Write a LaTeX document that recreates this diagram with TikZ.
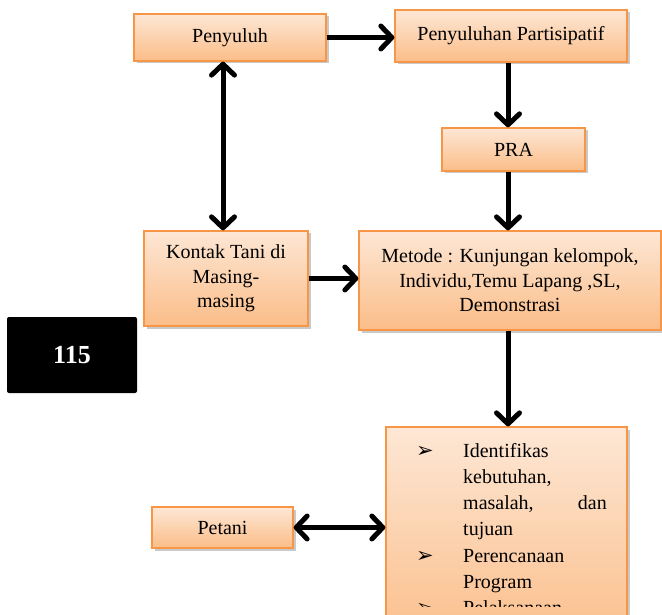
\documentclass[tikz,border=0pt]{standalone}
\usepackage{fontspec}
\setmainfont{Liberation Serif}
\newfontfamily\dejavu{DejaVu Sans}
\usetikzlibrary{arrows.meta,shadows}
\definecolor{boxline}{HTML}{F79646}
\definecolor{boxtop}{HTML}{FDE7D5}
\definecolor{boxbot}{HTML}{FBBD88}
\tikzset{
  box/.style={draw=boxline, line width=1.3pt, top color=boxtop, bottom color=boxbot,
    drop shadow={shadow xshift=2.5pt, shadow yshift=-2.5pt, opacity=0.3, fill=black!70},
    align=center, font=\fontsize{20}{24.5}\selectfont, inner sep=0pt},
  tip/.tip={Straight Barb[length=11pt,width=23pt,line width=5pt,round]},
  conn/.style={line width=5pt, -tip},
  dconn/.style={line width=5pt, tip-tip},
  txt/.style={font=\fontsize{20}{24}\selectfont, inner sep=0pt},
  bul/.style={font=\dejavu\fontsize{21}{21}\selectfont, inner sep=0pt, anchor=base}
}
\begin{document}
\begin{tikzpicture}[x=1pt,y=-1pt]
\useasboundingbox (0,0) rectangle (662,615);
\clip (0,0) rectangle (662,615);
\node[box, minimum width=192pt, minimum height=47pt] (peny) at (230,37.5) {Penyuluh};
\node[box, minimum width=232pt, minimum height=52pt] (pp) at (511,36) {Penyuluhan Partisipatif};
\node[box, minimum width=143pt, minimum height=43pt] (pra) at (513.5,149.5) {PRA};
\node[box, minimum width=164pt, minimum height=95pt] (kontak) at (226,278.5) {Kontak Tani di\\Masing-\\masing};
\node[box, minimum width=302pt, minimum height=99pt] (metode) at (510,280.5) {Metode : Kunjungan kelompok,\\Individu,Temu Lapang ,SL,\\Demonstrasi};
\node[box, minimum width=141pt, minimum height=41pt] (petani) at (222.5,527.5) {Petani};
\node[box, minimum width=241pt, minimum height=223pt] (ident) at (506.5,538.5) {};
\node[fill=black, rounded corners=2pt, minimum width=130pt, minimum height=76pt, inner sep=0pt,
  text=white, font=\bfseries\fontsize{26}{26}\selectfont] (num) at (72,355) {115};
% bottom box text
\node[bul] (b1) at (425,457) {➢};
\node[txt, anchor=base west] (t1) at (463,457) {Identifikas};
\node[txt, anchor=base west] (t2) at (463,483.3) {kebutuhan,};
\node[txt, anchor=base west] (t3) at (463,509.6) {masalah,};
\node[txt, anchor=base east] (t3b) at (607,509.6) {dan};
\node[txt, anchor=base west] (t4) at (463,535.9) {tujuan};
\node[bul] (b2) at (425,562.2) {➢};
\node[txt, anchor=base west] (t5) at (463,562.2) {Perencanaan};
\node[txt, anchor=base west] (t6) at (463,588.5) {Program};
\begin{scope}
\clip (386,595) rectangle (627,606);
\node[bul] (b3) at (425,614.8) {➢};
\node[txt, anchor=base west] (t7) at (463,614.8) {Pelaksanaan};
\end{scope}
% connectors
\coordinate (cx) at (508,0);
\coordinate (vx) at (223,0);
\draw[conn] (peny.east) -- (peny.east -| pp.west);
\draw[conn] (pp.south -| cx) -- (pra.north -| cx);
\draw[conn] (pra.south -| cx) -- (metode.north -| cx);
\draw[conn] (metode.south -| cx) -- (ident.north -| cx);
\draw[dconn] (peny.south -| vx) -- (kontak.north -| vx);
\draw[conn] (kontak.east) -- (kontak.east -| metode.west);
\draw[dconn] (petani.east) -- (petani.east -| ident.west);
\end{tikzpicture}
\end{document}
